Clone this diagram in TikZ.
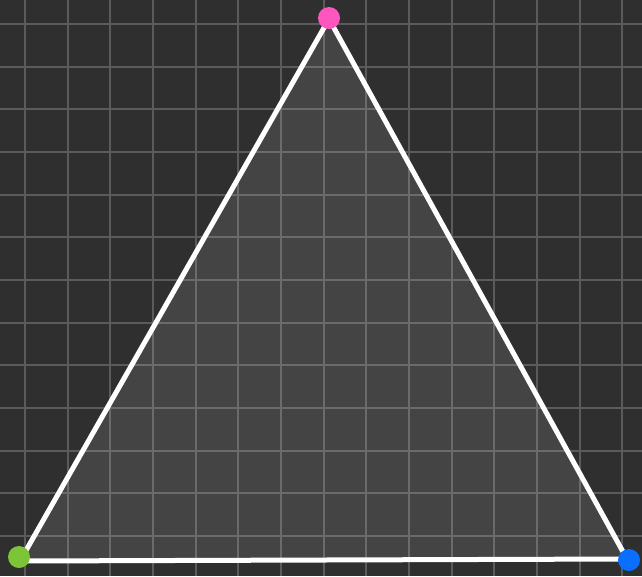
\documentclass[tikz,border=0pt]{standalone}
\begin{document}
\begin{tikzpicture}[x=1pt,y=-1pt,
  gridline/.style={draw=gridc,line width=2pt},
  edge/.style={draw=white,line width=5pt,line join=round},
  vdot/.style={circle,inner sep=0pt,minimum size=22pt}]
\definecolor{bgc}{HTML}{2F2F2F}
\definecolor{gridc}{HTML}{5B5B5E}
\definecolor{pinkc}{HTML}{FF55BE}
\definecolor{greenc}{HTML}{7DC437}
\definecolor{bluec}{HTML}{0A6EFF}
\fill[bgc] (0,0) rectangle (642,576);
\useasboundingbox (0,0) rectangle (642,576);
\foreach \k in {0,...,14} \draw[gridline] ({25+42.67*\k},0) -- ({25+42.67*\k},576);
\foreach \k in {0,...,12} \draw[gridline] (0,{24+42.67*\k}) -- (642,{24+42.67*\k});
\coordinate (A) at (329,19);
\coordinate (B) at (20,561);
\coordinate (C) at (627,559);
\fill[white,fill opacity=0.1] (A) -- (B) -- (C) -- cycle;
\draw[edge] (A) -- (B) -- (C) -- cycle;
\node[vdot,fill=pinkc] (top) at (329,18) {};
\node[vdot,fill=greenc] (left) at (19,557) {};
\node[vdot,fill=bluec] (right) at (629,560) {};
\end{tikzpicture}
\end{document}
